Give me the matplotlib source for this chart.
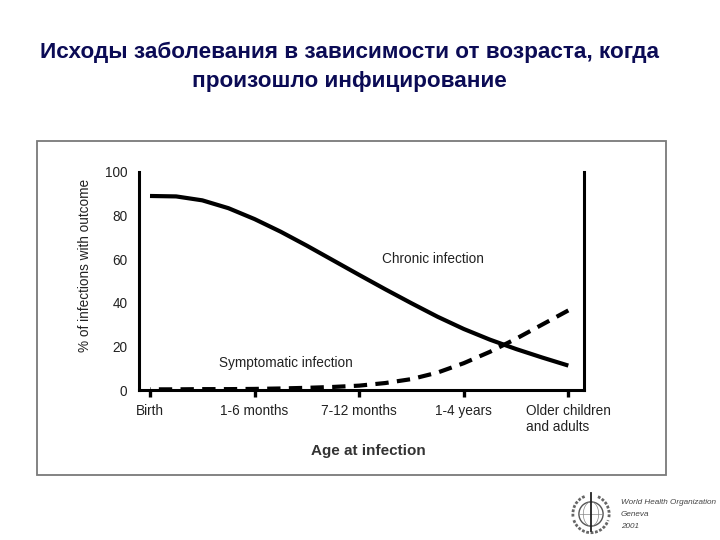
import matplotlib
matplotlib.use("Agg")
import matplotlib.pyplot as plt
from matplotlib.patches import Rectangle, Circle, Arc

plt.rcParams['font.family'] = ['Liberation Sans', 'DejaVu Sans']

# ---- data ----
categories = ["Birth", "1-6 months", "7-12 months", "1-4 years", "Older children\nand adults"]
cat_pos = [0, 1, 2, 3, 4]
x_curve = [0, 0.25, 0.5, 0.75, 1.0, 1.25, 1.5, 1.75, 2.0, 2.25, 2.5, 2.75, 3.0, 3.25, 3.5, 3.75, 4.0]
chronic = [89, 88.8, 87.0, 83.4, 78.4, 72.6, 66.2, 59.5, 52.8, 46.2, 39.8, 33.6, 28.0, 23.1, 18.8, 14.9, 11.2]
symptomatic = [0.3, 0.3, 0.4, 0.4, 0.5, 0.7, 1.0, 1.4, 2.0, 3.2, 5.0, 8.0, 12.3, 17.5, 23.5, 30.0, 36.5]
y_ticks = [0, 20, 40, 60, 80, 100]

W, H = 720, 540
fig = plt.figure(figsize=(7.2, 5.4), dpi=100)
fig.patch.set_facecolor('white')

def fx(px):
    return px / W

def fy(py):
    return 1 - py / H

# title
title_col = '#0b0b55'
fig.text(fx(349), fy(52), "Исходы заболевания в зависимости от возраста, когда",
         ha='center', va='center', fontsize=16.2, fontweight='bold', color=title_col)
fig.text(fx(349), fy(81), "произошло инфицирование",
         ha='center', va='center', fontsize=16.2, fontweight='bold', color=title_col)

# outer frame
fig.patches.append(Rectangle((fx(37), fy(475)), fx(666) - fx(37), fy(141) - fy(475),
                             transform=fig.transFigure, fill=False,
                             edgecolor='#7a7a7a', linewidth=1.3))

# axes
left_px, right_px, top_px, bot_px = 138.5, 584, 172, 390
ax = fig.add_axes([fx(left_px), fy(bot_px), (right_px - left_px) / W, (bot_px - top_px) / H])
ax.set_xlim(-0.11, 4.15)
ax.set_ylim(0, 100)
ax.set_facecolor('none')

for s in ['left', 'right', 'bottom']:
    ax.spines[s].set_linewidth(2.2)
    ax.spines[s].set_color('black')
ax.spines['top'].set_visible(False)

txt_col = '#222222'
ax.set_yticks(y_ticks)
ax.set_yticklabels([str(v) for v in y_ticks])
ax.tick_params(axis='y', length=0, pad=8, labelsize=9.8, labelcolor=txt_col)
ax.set_xticks(cat_pos)
ax.set_xticklabels(categories, multialignment='left')
ax.tick_params(axis='x', direction='out', length=5, width=2.4, pad=5,
               labelsize=9.8, labelcolor=txt_col)

ax.plot(x_curve, chronic, color='black', linewidth=3.0, solid_capstyle='butt',
        solid_joinstyle='round', clip_on=False)
# drawn from the right end so the pattern ends with a full dash there
ax.plot(x_curve[::-1], symptomatic[::-1], color='black', linewidth=3.0, dashes=(3.2, 2.0),
        dash_capstyle='butt', dash_joinstyle='round', clip_on=False)

ax.text(2.22, 60, "Chronic infection", fontsize=9.8, color=txt_col, ha='left', va='center')
ax.text(0.66, 12.6, "Symptomatic infection", fontsize=9.8, color=txt_col, ha='left', va='center')

ax.text(-0.119, 0.573, "% of infections with outcome", transform=ax.transAxes,
        rotation=90, ha='center', va='center', fontsize=9.8, color=txt_col)
ax.text(0.516, -0.28, "Age at infection", transform=ax.transAxes,
        ha='center', va='center', fontsize=11, fontweight='bold', color='#333333')

# WHO emblem (simple sketch) and caption
ax2 = fig.add_axes([fx(569), fy(536), 44 / W, 44 / H])
ax2.set_xlim(-1, 1)
ax2.set_ylim(-1, 1)
ax2.set_aspect('equal')
ax2.axis('off')
ax2.add_patch(Circle((0, 0.0), 0.55, fill=False, edgecolor='#555555', linewidth=1.0))
ax2.add_patch(Arc((0, 0.0), 0.7, 1.1, fill=False, edgecolor='#888888', linewidth=0.5))
ax2.plot([-0.55, 0.55], [0.0, 0.0], color='#888888', linewidth=0.5)
ax2.add_patch(Arc((0, 0.0), 1.65, 1.7, theta1=200, theta2=340, edgecolor='#666666',
                  linewidth=2.0, linestyle=(0, (1, 0.6))))
ax2.add_patch(Arc((0, 0.0), 1.65, 1.7, theta1=110, theta2=190, edgecolor='#666666',
                  linewidth=2.0, linestyle=(0, (1, 0.6))))
ax2.add_patch(Arc((0, 0.0), 1.65, 1.7, theta1=350, theta2=70, edgecolor='#666666',
                  linewidth=2.0, linestyle=(0, (1, 0.6))))
ax2.plot([0, 0], [-0.75, 0.95], color='#222222', linewidth=1.3)

cap_col = '#444444'
for i, line in enumerate(["World Health Organization", "Geneva", "2001"]):
    fig.text(fx(621), fy(503 + 11.5 * i), line, ha='left', va='center', fontsize=5.9,
             style='italic', color=cap_col)

fig.savefig('out.png', dpi=100)
